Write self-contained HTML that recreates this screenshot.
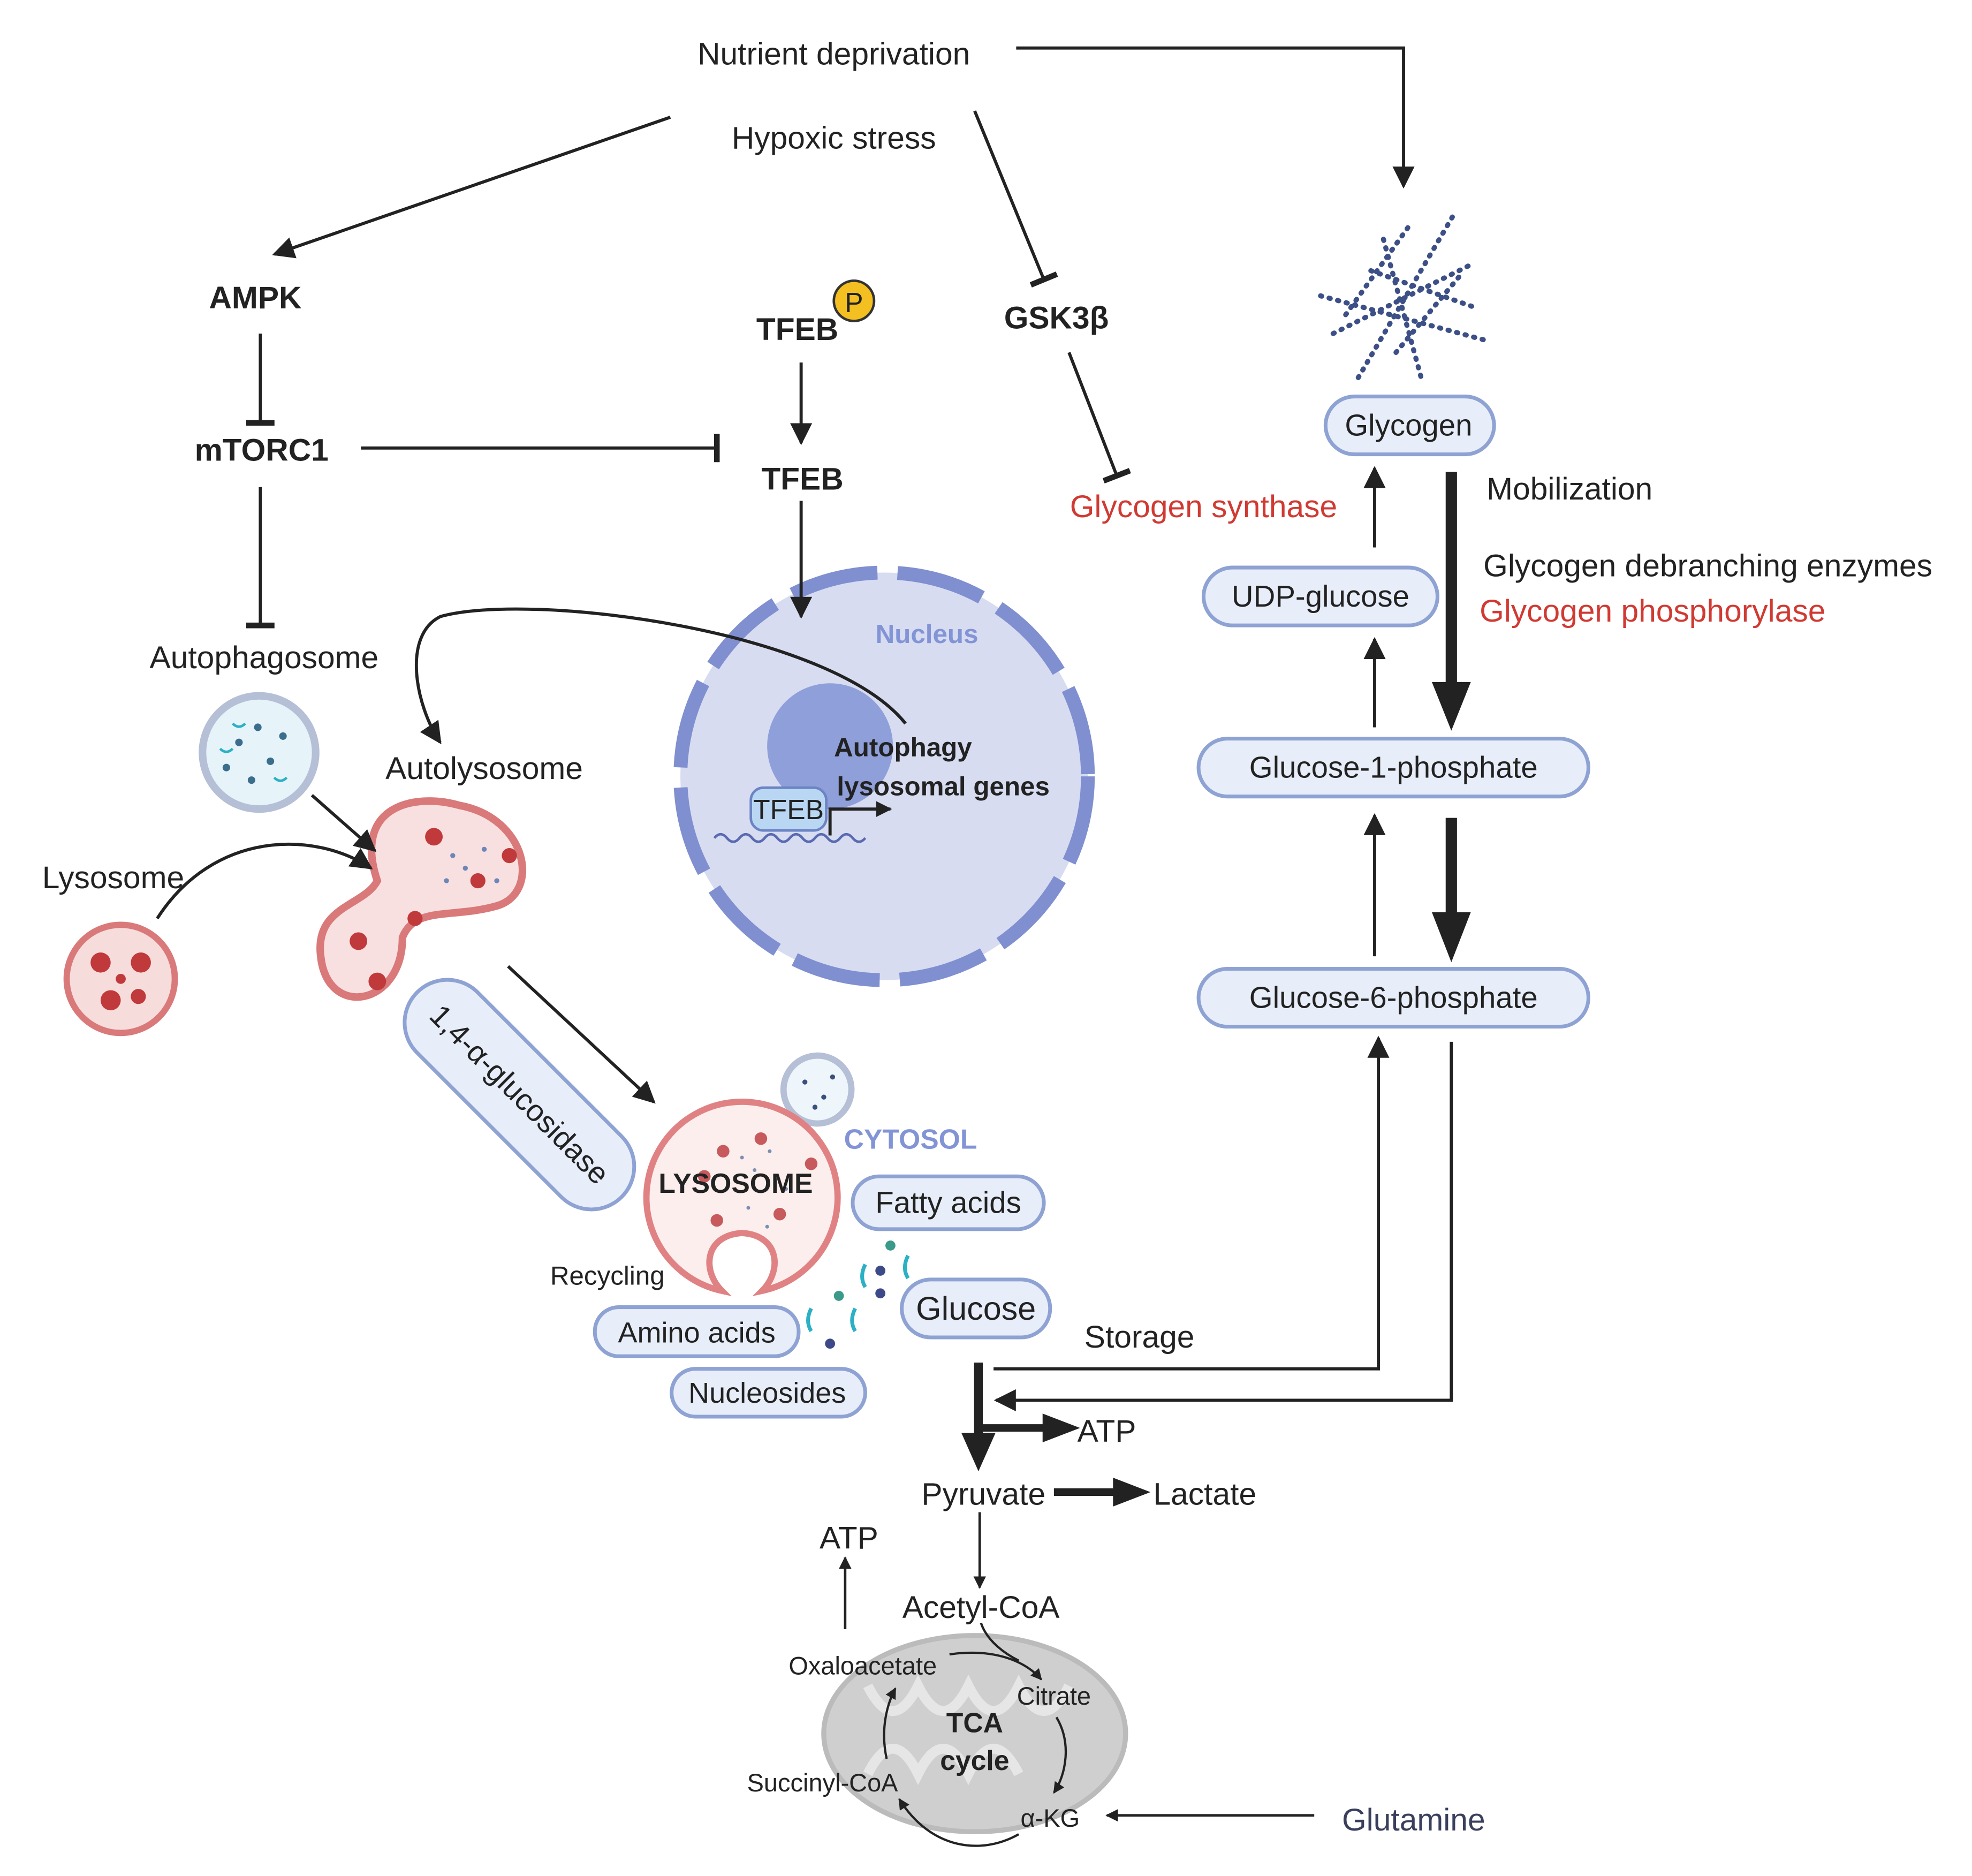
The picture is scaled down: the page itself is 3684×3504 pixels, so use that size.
<!DOCTYPE html>
<html><head><meta charset="utf-8"><style>
html,body{margin:0;padding:0;background:#fff;}
svg{display:block;}
text{font-family:"Liberation Sans",sans-serif;}
</style></head><body>
<svg width="3684" height="3504" viewBox="0 0 1568 1491" xmlns="http://www.w3.org/2000/svg">
<defs>
<marker id="a" viewBox="0 0 10 10" refX="9" refY="5" markerWidth="7" markerHeight="7" orient="auto-start-reverse"><path d="M0,0 L10,5 L0,10 z" fill="#222"/></marker>
<marker id="as" viewBox="0 0 10 10" refX="9" refY="5" markerWidth="5" markerHeight="5" orient="auto"><path d="M0,0 L10,5 L0,10 z" fill="#222"/></marker>
<marker id="b" viewBox="0 0 10 10" refX="5" refY="5" markerWidth="9" markerHeight="9" orient="auto"><path d="M5,0 L5,10" stroke="#222" stroke-width="2"/></marker>
</defs>
<g fill="#222" font-size="25" text-anchor="middle">
<text x="663" y="51">Nutrient deprivation</text>
<text x="663" y="118">Hypoxic stress</text>
<text x="203" y="245" font-weight="bold">AMPK</text>
<text x="634" y="270" font-weight="bold">TFEB</text>
<text x="840" y="261" font-weight="bold">GSK3β</text>
<text x="208" y="366" font-weight="bold">mTORC1</text>
<text x="638" y="389" font-weight="bold">TFEB</text>
<text x="957" y="411" fill="#d03a32">Glycogen synthase</text>
<text x="210" y="531">Autophagosome</text>
<text x="385" y="619">Autolysosome</text>
<text x="90" y="706">Lysosome</text>
<text x="1248" y="397" text-anchor="middle">Mobilization</text>
<text x="1358" y="458">Glycogen debranching enzymes</text>
<text x="1314" y="494" fill="#d03a32">Glycogen phosphorylase</text>
<text x="906" y="1071">Storage</text>
<text x="880" y="1146">ATP</text>
<text x="782" y="1196">Pyruvate</text>
<text x="958" y="1196">Lactate</text>
<text x="675" y="1231">ATP</text>
<text x="780" y="1286">Acetyl-CoA</text>
<text x="1124" y="1455" fill="#3a3f5c">Glutamine</text>
<text x="483" y="1021" font-size="21">Recycling</text>
</g>
<g stroke="#222" stroke-width="2.5" fill="none">
<path d="M808,38 L1116,38 L1116,148" marker-end="url(#a)"/>
<path d="M533,93 L218,202" marker-end="url(#a)"/>
<path d="M775,88 L830,222" marker-end="url(#b)"/>
<path d="M207,265 L207,336" marker-end="url(#b)"/>
<path d="M287,356 L570,356" marker-end="url(#b)"/>
<path d="M637,288 L637,352" marker-end="url(#a)"/>
<path d="M850,280 L888,378" marker-end="url(#b)"/>
<path d="M207,387 L207,497" marker-end="url(#b)"/>
</g>
<circle cx="679" cy="239" r="16" fill="#f4c021" stroke="#333" stroke-width="2"/>
<text x="679" y="248" font-size="22" text-anchor="middle" fill="#222">P</text>
<!-- nucleus -->
<circle cx="703" cy="617" r="162" fill="#d7dcf1" stroke="#7f8fd0" stroke-width="11" stroke-dasharray="70 16"/>
<circle cx="660" cy="593" r="50" fill="#8f9fd9"/>
<path d="M637,398 L637,490" stroke="#222" stroke-width="2.5" fill="none" marker-end="url(#a)"/>
<text x="737" y="511" font-size="21" font-weight="bold" fill="#8394d6" text-anchor="middle">Nucleus</text>
<text x="718" y="601" font-size="21" font-weight="bold" fill="#222" text-anchor="middle">Autophagy</text>
<text x="750" y="632" font-size="21" font-weight="bold" fill="#222" text-anchor="middle">lysosomal genes</text>
<path d="M568,666 q5,-6 10,0 t10,0 t10,0 t10,0 t10,0 t10,0 t10,0 t10,0 t10,0 t10,0 t10,0 t10,0" stroke="#5a6ab0" stroke-width="2" fill="none"/>
<rect x="597" y="626" width="60" height="34" rx="10" fill="#b9d6f3" stroke="#6c84c4" stroke-width="2"/>
<text x="627" y="651" font-size="22" text-anchor="middle" fill="#222">TFEB</text>
<path d="M660,664 L660,643 L708,643" stroke="#222" stroke-width="2.5" fill="none" marker-end="url(#as)"/>
<path d="M720,575 C660,500 420,470 350,490 C320,505 330,560 350,590" stroke="#222" stroke-width="2.5" fill="none" marker-end="url(#a)"/>
<!-- autophagosome -->
<circle cx="206" cy="598" r="45" fill="#e6f3f9" stroke="#b5bfd6" stroke-width="6"/>
<g fill="#3b6d8c"><circle cx="190" cy="590" r="3"/><circle cx="215" cy="605" r="3"/><circle cx="205" cy="578" r="3"/><circle cx="225" cy="585" r="3"/><circle cx="180" cy="610" r="3"/><circle cx="200" cy="620" r="3"/></g>
<path d="M185,575 q5,5 10,0 M218,618 q5,5 10,0 M175,595 q5,5 10,0" stroke="#2bb0c4" stroke-width="2" fill="none"/>
<!-- lysosome small -->
<circle cx="96" cy="778" r="43" fill="#f7dcdc" stroke="#d9797a" stroke-width="5"/>
<g fill="#c0393b"><circle cx="80" cy="765" r="8"/><circle cx="112" cy="765" r="8"/><circle cx="88" cy="795" r="8"/><circle cx="110" cy="792" r="6"/><circle cx="96" cy="778" r="4"/></g>
<!-- autolysosome -->
<path d="M300,700 C280,640 330,630 365,640 C420,650 430,710 395,720 C360,730 330,720 320,745 C320,800 260,810 255,760 C250,720 290,720 300,700 Z" fill="#f9e0e0" stroke="#d9797a" stroke-width="6"/>
<g fill="#c0393b"><circle cx="345" cy="665" r="7"/><circle cx="380" cy="700" r="6"/><circle cx="285" cy="748" r="7"/><circle cx="300" cy="780" r="7"/><circle cx="330" cy="730" r="6"/><circle cx="405" cy="680" r="6"/></g>
<g fill="#6c86b8"><circle cx="360" cy="680" r="2"/><circle cx="370" cy="690" r="2"/><circle cx="355" cy="700" r="2"/><circle cx="385" cy="675" r="2"/><circle cx="395" cy="700" r="2"/></g>
<path d="M248,632 L298,676" stroke="#222" stroke-width="2.5" marker-end="url(#a)"/>
<path d="M125,730 C170,660 250,660 295,690" stroke="#222" stroke-width="2.5" fill="none" marker-end="url(#a)"/>
<g transform="translate(413,870) rotate(45)">
<rect x="-115" y="-34" width="230" height="68" rx="34" fill="#e8eef9" stroke="#8ea2d3" stroke-width="3"/>
<text x="0" y="8" font-size="24" text-anchor="middle" fill="#222">1,4-α-glucosidase</text>
</g>
<path d="M404,768 L520,876" stroke="#222" stroke-width="2.5" marker-end="url(#a)"/>
<!-- LYSOSOME big -->
<circle cx="650" cy="866" r="27" fill="#eef5fb" stroke="#b5bfd6" stroke-width="5"/>
<g fill="#3b4f7c"><circle cx="640" cy="860" r="2"/><circle cx="655" cy="872" r="2"/><circle cx="662" cy="856" r="2"/><circle cx="648" cy="880" r="2"/></g>
<path d="M574,1026 A76,76 0 1 1 606,1026 C622,1010 620,982 590,980 C560,982 558,1010 574,1026 Z" fill="#fdeeee" stroke="#e08283" stroke-width="5"/>
<g fill="#c75a5c"><circle cx="560" cy="935" r="5"/><circle cx="575" cy="915" r="5"/><circle cx="605" cy="905" r="5"/><circle cx="570" cy="970" r="5"/><circle cx="620" cy="965" r="5"/><circle cx="645" cy="925" r="5"/></g>
<g fill="#7d8fb0"><circle cx="590" cy="920" r="1.5"/><circle cx="600" cy="930" r="1.5"/><circle cx="612" cy="915" r="1.5"/><circle cx="595" cy="960" r="1.5"/><circle cx="610" cy="975" r="1.5"/><circle cx="625" cy="945" r="1.5"/></g>
<text x="585" y="948" font-size="22" font-weight="bold" fill="#222" text-anchor="middle">LYSOSOME</text>
<text x="724" y="913" font-size="22" font-weight="bold" fill="#8394d6" text-anchor="middle">CYTOSOL</text>
<g fill="#3c4a8a"><circle cx="700" cy="1010" r="4"/><circle cx="700" cy="1028" r="4"/><circle cx="660" cy="1068" r="4"/></g>
<g fill="#3b9a8a"><circle cx="708" cy="990" r="4"/><circle cx="667" cy="1030" r="4"/></g>
<path d="M688,1005 q-5,10 0,18 M722,998 q-5,10 0,18 M645,1040 q-5,10 0,18 M680,1040 q-5,10 0,18" stroke="#2bb0c4" stroke-width="3" fill="none"/>
<g font-size="24" text-anchor="middle" fill="#222">
<rect x="678" y="935" width="152" height="42" rx="21" fill="#e8eef9" stroke="#8ea2d3" stroke-width="3"/><text x="754" y="964">Fatty acids</text>
<rect x="717" y="1017" width="118" height="46" rx="23" fill="#e8eef9" stroke="#8ea2d3" stroke-width="3"/><text x="776" y="1049" font-size="26">Glucose</text>
<rect x="473" y="1039" width="162" height="39" rx="19" fill="#e8eef9" stroke="#8ea2d3" stroke-width="3"/><text x="554" y="1067" font-size="23">Amino acids</text>
<rect x="534" y="1088" width="154" height="38" rx="19" fill="#e8eef9" stroke="#8ea2d3" stroke-width="3"/><text x="610" y="1115" font-size="23">Nucleosides</text>
<rect x="1054" y="315" width="134" height="46" rx="23" fill="#e8eef9" stroke="#8ea2d3" stroke-width="3"/><text x="1120" y="346">Glycogen</text>
<rect x="957" y="451" width="186" height="46" rx="23" fill="#e8eef9" stroke="#8ea2d3" stroke-width="3"/><text x="1050" y="482">UDP-glucose</text>
<rect x="953" y="587" width="310" height="46" rx="23" fill="#e8eef9" stroke="#8ea2d3" stroke-width="3"/><text x="1108" y="618">Glucose-1-phosphate</text>
<rect x="953" y="770" width="310" height="46" rx="23" fill="#e8eef9" stroke="#8ea2d3" stroke-width="3"/><text x="1108" y="801">Glucose-6-phosphate</text>
</g>
<g stroke="#3c4f86" stroke-width="4" stroke-dasharray="1 6" stroke-linecap="round" fill="none">
<path d="M1050,235 L1180,270"/><path d="M1080,300 L1155,172"/><path d="M1100,190 L1130,300"/><path d="M1060,265 L1170,210"/><path d="M1090,215 L1175,245"/><path d="M1070,250 L1120,180"/><path d="M1110,280 L1160,220"/>
</g>
<g stroke="#222" fill="none">
<path d="M1154,375 L1154,545" stroke-width="9"/><path d="M1140,543 L1168,543 L1154,578 Z" fill="#222" stroke-width="2"/>
<path d="M1154,650 L1154,728" stroke-width="9"/><path d="M1140,726 L1168,726 L1154,762 Z" fill="#222" stroke-width="2"/>
<path d="M1093,435 L1093,372" stroke-width="2.5" marker-end="url(#a)"/>
<path d="M1093,578 L1093,508" stroke-width="2.5" marker-end="url(#a)"/>
<path d="M1093,760 L1093,648" stroke-width="2.5" marker-end="url(#a)"/>
<path d="M790,1088 L1096,1088 L1096,825" stroke-width="2.5" marker-end="url(#a)"/>
<path d="M1154,828 L1154,1113 L792,1113" stroke-width="2.5" marker-end="url(#a)"/>
<path d="M778,1083 L778,1142" stroke-width="7"/><path d="M766,1140 L790,1140 L778,1167 Z" fill="#222" stroke-width="2"/>
<path d="M778,1135 L832,1135" stroke-width="6"/><path d="M830,1125 L856,1135 L830,1145 Z" fill="#222" stroke-width="2"/>
<path d="M838,1186 L888,1186" stroke-width="6"/><path d="M886,1176 L912,1186 L886,1196 Z" fill="#222" stroke-width="2"/>
<path d="M779,1202 L779,1262" stroke-width="2" marker-end="url(#as)"/>
<path d="M672,1295 L672,1238" stroke-width="2" marker-end="url(#as)"/>
<path d="M1045,1443 L880,1443" stroke-width="2" marker-end="url(#as)"/>
</g>
<ellipse cx="775" cy="1378" rx="120" ry="78" fill="#cfcfcf" stroke="#bbb" stroke-width="4"/>
<path d="M690,1340 q20,40 40,0 q20,40 40,0 q20,40 40,0 q20,40 40,0 M690,1410 q20,-40 40,0 q20,-40 40,0 q20,-40 40,0" stroke="#e6e6e6" stroke-width="8" fill="none"/>
<g font-size="20" fill="#222" text-anchor="middle">
<text x="686" y="1331">Oxaloacetate</text>
<text x="838" y="1355">Citrate</text>
<text x="654" y="1424">Succinyl-CoA</text>
<text x="835" y="1452">α-KG</text>
<text x="775" y="1377" font-weight="bold" font-size="22">TCA</text>
<text x="775" y="1407" font-weight="bold" font-size="22">cycle</text>
</g>
<g stroke="#222" stroke-width="1.8" fill="none">
<path d="M755,1315 C790,1310 815,1320 828,1335" marker-end="url(#as)"/>
<path d="M780,1290 C785,1305 800,1315 810,1320"/>
<path d="M840,1365 C852,1385 848,1410 838,1425" marker-end="url(#as)"/>
<path d="M810,1458 C780,1475 740,1470 715,1430" marker-end="url(#as)"/>
<path d="M705,1398 C700,1375 705,1355 712,1342" marker-end="url(#as)"/>
</g>
</svg>
</body></html>
